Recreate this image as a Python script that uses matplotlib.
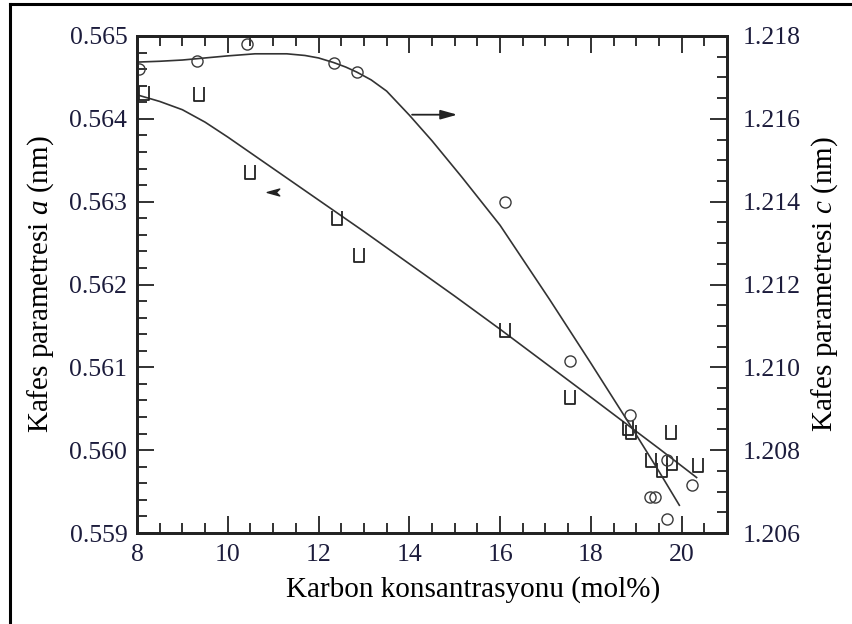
import matplotlib
matplotlib.use("Agg")
import matplotlib.pyplot as plt
from matplotlib.path import Path
from matplotlib.lines import Line2D
from matplotlib.ticker import MultipleLocator, FormatStrFormatter

plt.rcParams['font.family'] = ['Liberation Serif', 'DejaVu Serif']
plt.rcParams['mathtext.fontset'] = 'custom'
plt.rcParams['mathtext.it'] = 'Liberation Serif:italic'
plt.rcParams['mathtext.rm'] = 'Liberation Serif'

# ---- data ----
# lattice parameter a (left axis), squares
a_x = [8.15, 9.36, 10.49, 12.40, 12.89, 16.10, 17.53, 18.82, 18.88, 19.33, 19.56, 19.78, 19.76, 20.37]
a_y = [0.56431, 0.56430, 0.56336, 0.56280, 0.56236, 0.56145, 0.56064, 0.56027, 0.56022, 0.55988, 0.55976, 0.55984, 0.56022, 0.55982]
# lattice parameter c (right axis), circles
c_x = [8.05, 9.33, 10.42, 12.33, 12.84, 16.10, 17.53, 18.87, 19.67, 20.22, 19.30, 19.42, 19.67]
c_y = [1.2172, 1.2174, 1.2178, 1.21735, 1.21713, 1.2140, 1.21015, 1.20885, 1.20776, 1.20715, 1.20686, 1.20686, 1.20633]
# guide curves
a_curve_x = [8.0, 8.5, 9.0, 9.5, 10.0, 11.0, 12.0, 13.0, 14.0, 15.0, 16.0, 17.0, 18.0, 18.87, 19.5, 20.33]
a_curve_y = [0.56429, 0.56421, 0.56411, 0.56396, 0.56378, 0.56340, 0.56302, 0.56264, 0.56225, 0.56186,
             0.56146, 0.56105, 0.56064, 0.56028, 0.56002, 0.55967]
c_curve_x = [8.0, 8.5, 9.0, 9.5, 10.0, 10.6, 11.3, 11.7, 12.0, 12.33, 12.6, 12.84, 13.16, 13.5, 14.0,
             14.5, 15.16, 16.0, 17.09, 18.0, 18.87, 19.5, 19.95]
c_curve_y = [1.21737, 1.21739, 1.21742, 1.21747, 1.21752, 1.21757, 1.21757, 1.21753, 1.21747, 1.21736,
             1.21725, 1.21713, 1.21694, 1.21667, 1.21609, 1.21547, 1.21459, 1.21343, 1.21164, 1.21010,
             1.20860, 1.20749, 1.20667]

x_label = "Karbon konsantrasyonu (mol%)"
ya_label = "Kafes parametresi $\\it{a}$ (nm)"
yc_label = "Kafes parametresi $\\it{c}$ (nm)"

W, H = 853, 624
fig = plt.figure(figsize=(W/100, H/100), dpi=100)
ax = fig.add_axes([137/W, 1-533/H, (727-137)/W, (533-36)/H])
ax2 = ax.twinx()

ink = '#333333'
tick_col = '#1c1c3c'

sq = Path([(-0.7, 1.0), (-0.7, -1.0), (0.7, -1.0), (0.7, 1.0)],
          [Path.MOVETO, Path.LINETO, Path.LINETO, Path.LINETO])
head = Path([(-1, 0), (1, 0.55), (0.45, 0), (1, -0.55), (-1, 0)],
            [Path.MOVETO, Path.LINETO, Path.LINETO, Path.LINETO, Path.CLOSEPOLY])

ax.plot(a_curve_x, a_curve_y, color=ink, lw=1.2)
ax.plot(a_x, a_y, linestyle='none', marker=sq, ms=10, mfc='none', mec='#222222', mew=1.3)
ax2.plot(c_curve_x, c_curve_y, color=ink, lw=1.2)
ax2.plot(c_x, c_y, linestyle='none', marker='o', ms=8, mfc='none', mec='#3a3a3a', mew=1.0)

# arrows
ax.plot([11.0], [0.56312], marker=head, ms=9, color='#222222', linestyle='none')
ax.annotate('', xy=(15.12, 0.56405), xytext=(14.0, 0.56405),
            arrowprops=dict(arrowstyle='-|>,head_length=1.0,head_width=0.28', color='#222222', lw=1.3))

ax.set_xlim(8, 21)
ax.set_ylim(0.559, 0.565)
ax2.set_ylim(1.206, 1.218)

ax.xaxis.set_major_locator(MultipleLocator(2))
ax.xaxis.set_minor_locator(MultipleLocator(0.5))
ax.yaxis.set_major_locator(MultipleLocator(0.001))
ax.yaxis.set_minor_locator(MultipleLocator(0.0002))
ax.yaxis.set_major_formatter(FormatStrFormatter('%.3f'))
ax2.yaxis.set_major_locator(MultipleLocator(0.002))
ax2.yaxis.set_minor_locator(MultipleLocator(0.0005))
ax2.yaxis.set_major_formatter(FormatStrFormatter('%.3f'))

ax.tick_params(axis='x', which='both', direction='in', top=True, bottom=True,
               labelsize=18.5, colors='#222222', labelcolor=tick_col, pad=8)
ax.tick_params(axis='y', which='both', direction='in', left=True, right=False,
               labelsize=18.5, colors='#222222', labelcolor=tick_col, pad=7)
ax2.tick_params(axis='y', which='both', direction='in', right=True,
                labelsize=18.5, colors='#222222', labelcolor=tick_col, pad=11)
for a in (ax, ax2):
    a.tick_params(which='major', length=12, width=1.3)
    a.tick_params(which='minor', length=7, width=1.3)
for s in list(ax.spines.values()) + list(ax2.spines.values()):
    s.set_linewidth(2.0)
    s.set_color('#222222')

ax.set_xlabel(x_label, fontsize=21)
ax.xaxis.set_label_coords((473-137)/(727-137), -(590-533)/(533-36), transform=ax.transAxes)
ax.set_ylabel(ya_label, fontsize=21)
ax.yaxis.set_label_coords(-(137-41)/(727-137), 0.5, transform=ax.transAxes)
ax2.set_ylabel(yc_label, fontsize=21, rotation=90)
ax2.yaxis.set_label_coords(1+(825-727)/(727-137), 0.5, transform=ax2.transAxes)
ax.xaxis.label.set_va('center')
ax.yaxis.label.set_va('center')
ax2.yaxis.label.set_va('center')

# outer frame (left and top)
fig.add_artist(Line2D([10/W, 10/W], [0, 1-4/H], color='black', lw=2.2, transform=fig.transFigure))
fig.add_artist(Line2D([10/W, 1], [1-4/H, 1-4/H], color='black', lw=2.2, transform=fig.transFigure))

fig.savefig('out.png', dpi=100)
